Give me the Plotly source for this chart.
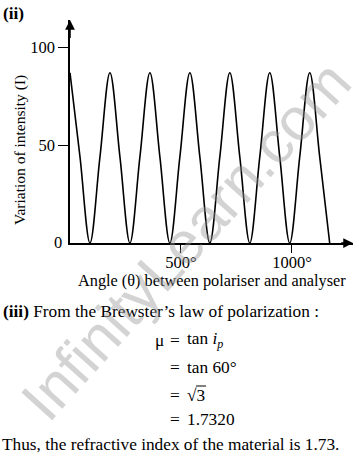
import plotly.graph_objects as go

# Data (angle in degrees, intensity)
angle_deg = [0, 45, 90, 135, 180, 225, 270, 315, 360, 405, 450, 495, 540, 585,
             630, 675, 720, 765, 810, 855, 900, 945, 990, 1035, 1080, 1125, 1170]
intensity = [87, 44, 0, 44, 87, 44, 0, 44, 87, 44, 0, 44, 87, 44,
             0, 44, 87, 44, 0, 44, 87, 44, 0, 44, 87, 44, 0]
x_tick_vals = [500, 1000]
x_tick_text = ["500°", "1000°"]
y_tick_vals = [50, 100]
y_tick_text = ["50", "100"]

W, H = 359, 456
FONT = "Liberation Serif"
FS = 16.5
FT = 17.3

def py(px):
    return 1 - px / H

def px_(x):
    return x / W

fig = go.Figure()
fig.add_trace(go.Scatter(
    x=angle_deg, y=intensity, mode="lines",
    line=dict(color="black", width=1.6, shape="spline", smoothing=1.0),
    hoverinfo="skip", showlegend=False))

xmax, ymax = 1275, 114

fig.update_layout(
    width=W, height=H,
    margin=dict(l=0, r=0, t=0, b=0),
    paper_bgcolor="white", plot_bgcolor="white",
    font=dict(family=FONT, color="black", size=FS),
    xaxis=dict(domain=[px_(70), px_(353)], range=[0, xmax],
               showgrid=False, zeroline=False, showline=True,
               linecolor="black", linewidth=1.5,
               ticks="outside", ticklen=8, tickwidth=1.3, tickcolor="black",
               tickvals=x_tick_vals, ticktext=x_tick_text,
               ticklabelstandoff=-5,
               tickfont=dict(family=FONT, size=FS), anchor="y"),
    yaxis=dict(domain=[py(243), py(20)], range=[0, ymax],
               showgrid=False, zeroline=False, showline=True,
               linecolor="black", linewidth=1.5,
               ticks="outside", ticklen=10, tickwidth=1.3, tickcolor="black",
               tickvals=y_tick_vals, ticktext=y_tick_text,
               tickfont=dict(family=FONT, size=FS), anchor="x"),
)

ann = []
# axis arrowheads
ann.append(dict(x=xmax, y=0, ax=xmax - 60, ay=0, xref="x", yref="y",
                axref="x", ayref="y", text="", showarrow=True,
                arrowhead=2, arrowsize=1.3, arrowwidth=1.5, arrowcolor="black"))
ann.append(dict(x=0, y=ymax, ax=0, ay=ymax - 10, xref="x", yref="y",
                axref="x", ayref="y", text="", showarrow=True,
                arrowhead=2, arrowsize=1.3, arrowwidth=1.5, arrowcolor="black"))
# zero label
ann.append(dict(x=px_(58), y=py(242), xref="paper", yref="paper", text="0",
                showarrow=False, xanchor="center", yanchor="middle",
                font=dict(size=FS)))
# axis titles
ann.append(dict(x=px_(20), y=py(150), xref="paper", yref="paper",
                text="Variation of intensity (I)", textangle=-90,
                showarrow=False, xanchor="center", yanchor="middle",
                font=dict(size=15.5)))
ann.append(dict(x=px_(212), y=py(280), xref="paper", yref="paper",
                text="Angle (θ) between polariser and analyser",
                showarrow=False, xanchor="center", yanchor="middle",
                font=dict(size=16.3)))
# labels
ann.append(dict(x=px_(1), y=py(14), xref="paper", yref="paper", text="<b>(ii)</b>",
                showarrow=False, xanchor="left", yanchor="middle", font=dict(size=FT)))
ann.append(dict(x=px_(1), y=py(311), xref="paper", yref="paper",
                text="<b>(iii)</b> From the Brewster’s law of polarization :",
                showarrow=False, xanchor="left", yanchor="middle", font=dict(size=FT)))
ann.append(dict(x=px_(153), y=py(340), xref="paper", yref="paper", text="μ",
                showarrow=False, xanchor="left", yanchor="middle", font=dict(size=FT)))
for ypx, txt in [(340, "tan <i>i</i><sub><i>p</i></sub>"), (367, "tan 60°"),
                 (395, "√3"), (419, "1.7320")]:
    ann.append(dict(x=px_(168), y=py(ypx), xref="paper", yref="paper", text="=",
                    showarrow=False, xanchor="left", yanchor="middle", font=dict(size=FT)))
    ann.append(dict(x=px_(185), y=py(ypx), xref="paper", yref="paper", text=txt,
                    showarrow=False, xanchor="left", yanchor="middle", font=dict(size=FT)))
ann.append(dict(x=px_(0), y=py(444), xref="paper", yref="paper",
                text="Thus, the refractive index of the material is 1.73.",
                showarrow=False, xanchor="left", yanchor="middle", font=dict(size=FT)))
# watermark
ann.append(dict(x=px_(186), y=py(240), xref="paper", yref="paper",
                text="InfinityLearn.com", textangle=-48,
                showarrow=False, xanchor="center", yanchor="middle",
                font=dict(family="Liberation Sans", size=60, color="rgba(150,150,150,0.42)")))
fig.update_layout(annotations=ann)

# radical bar over the 3
fig.add_shape(type="line", xref="paper", yref="paper",
              x0=px_(196), x1=px_(206), y0=py(386), y1=py(386),
              line=dict(color="black", width=1))

fig.write_html("out.html", config={"displayModeBar": False},
               post_script="document.body.style.margin='0';")
